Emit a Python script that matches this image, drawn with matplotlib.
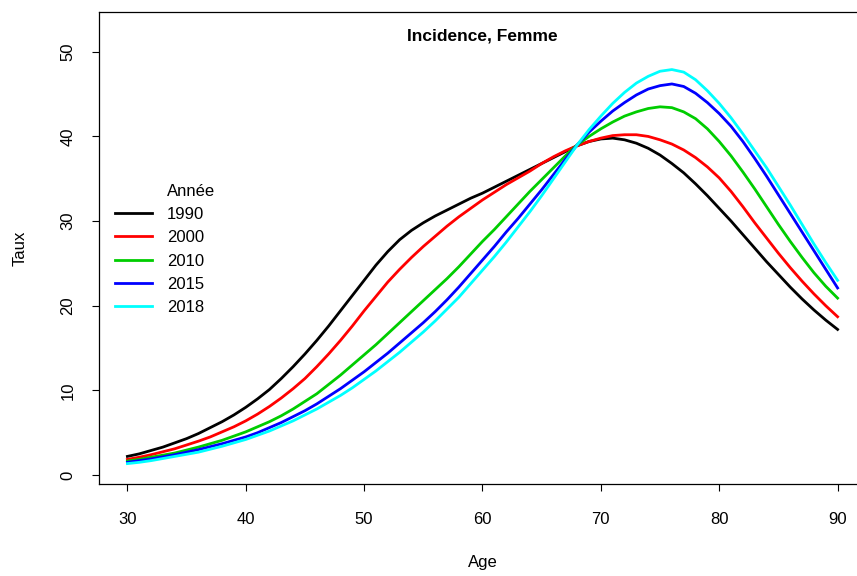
import matplotlib
matplotlib.use("Agg")
import matplotlib.pyplot as plt
from matplotlib.lines import Line2D

plt.rcParams['font.family'] = ['Liberation Sans', 'DejaVu Sans']

ages = list(range(30, 91))

taux_1990 = [2.2, 2.5, 2.9, 3.3, 3.8, 4.3, 4.9, 5.6, 6.3, 7.1,
             8.0, 9.0, 10.1, 11.4, 12.8, 14.3, 15.9, 17.6, 19.4, 21.2,
             23.0, 24.8, 26.4, 27.8, 28.9, 29.8, 30.6, 31.3, 32.0, 32.7,
             33.3, 34.0, 34.7, 35.4, 36.1, 36.8, 37.5, 38.2, 38.9, 39.4,
             39.7, 39.8, 39.6, 39.2, 38.6, 37.8, 36.8, 35.7, 34.4, 33.0,
             31.5, 30.0, 28.4, 26.8, 25.2, 23.7, 22.2, 20.8, 19.5, 18.3,
             17.2]
taux_2000 = [1.85, 2.1, 2.4, 2.75, 3.1, 3.55, 4.0, 4.5, 5.1, 5.7,
             6.4, 7.2, 8.1, 9.1, 10.2, 11.4, 12.8, 14.3, 15.9, 17.6,
             19.4, 21.1, 22.8, 24.3, 25.7, 27.0, 28.2, 29.4, 30.5, 31.5,
             32.5, 33.4, 34.3, 35.1, 35.9, 36.8, 37.6, 38.3, 38.9, 39.4,
             39.8, 40.1, 40.2, 40.2, 40.0, 39.6, 39.1, 38.4, 37.5, 36.4,
             35.1, 33.5, 31.7, 29.8, 28.0, 26.2, 24.5, 22.9, 21.4, 20.0,
             18.7]
taux_2010 = [1.65, 1.85, 2.1, 2.35, 2.6, 2.95, 3.3, 3.7, 4.1, 4.6,
             5.1, 5.7, 6.3, 7.0, 7.8, 8.7, 9.6, 10.7, 11.8, 13.0,
             14.2, 15.4, 16.7, 18.0, 19.3, 20.6, 21.9, 23.2, 24.6, 26.1,
             27.6, 29.0, 30.5, 32.0, 33.5, 34.9, 36.3, 37.7, 39.0, 40.0,
             40.9, 41.7, 42.4, 42.9, 43.3, 43.5, 43.4, 42.9, 42.1, 40.9,
             39.4, 37.7, 35.8, 33.8, 31.7, 29.6, 27.6, 25.7, 23.9, 22.3,
             20.9]
taux_2015 = [1.5, 1.7, 1.9, 2.15, 2.4, 2.7, 3.0, 3.35, 3.7, 4.1,
             4.5, 5.0, 5.6, 6.2, 6.9, 7.6, 8.4, 9.3, 10.2, 11.2,
             12.2, 13.3, 14.4, 15.6, 16.8, 18.0, 19.3, 20.7, 22.2, 23.8,
             25.4, 27.0, 28.7, 30.3, 32.0, 33.7, 35.5, 37.3, 39.0, 40.5,
             41.8, 43.0, 44.0, 44.9, 45.6, 46.0, 46.2, 45.9, 45.1, 44.0,
             42.7, 41.2, 39.4, 37.4, 35.3, 33.1, 30.9, 28.7, 26.5, 24.3,
             22.1]
taux_2018 = [1.35, 1.5, 1.7, 1.95, 2.2, 2.45, 2.7, 3.05, 3.4, 3.8,
             4.2, 4.7, 5.2, 5.8, 6.4, 7.1, 7.8, 8.6, 9.4, 10.3,
             11.3, 12.3, 13.4, 14.5, 15.7, 16.9, 18.2, 19.6, 21.0, 22.6,
             24.2, 25.8, 27.5, 29.3, 31.1, 33.0, 35.0, 37.0, 39.0, 40.8,
             42.4, 43.9, 45.2, 46.3, 47.1, 47.7, 47.9, 47.6, 46.7, 45.4,
             43.9, 42.2, 40.3, 38.3, 36.3, 34.1, 31.9, 29.6, 27.3, 25.1,
             23.0]

annees = ['1990', '2000', '2010', '2015', '2018']
couleurs = ['#000000', '#FF0000', '#00CD00', '#0000FF', '#00FFFF']
series = [taux_1990, taux_2000, taux_2010, taux_2015, taux_2018]

xticks = [30, 40, 50, 60, 70, 80, 90]
yticks = [0, 10, 20, 30, 40, 50]

W, H = 857, 576
fig = plt.figure(figsize=(W / 100, H / 100), dpi=100)
L, R, T, B = 99, 866, 12, 484
ax = fig.add_axes([L / W, (H - B) / H, (R - L) / W, (B - T) / H])

for vals, c, lab in zip(series, couleurs, annees):
    ax.plot(ages, vals, color=c, lw=2.0, label=lab, solid_joinstyle='round')

ax.set_xlim(27.6, 92.4)
ax.set_ylim(-1.06, 54.7)
ax.set_xticks(xticks)
ax.set_yticks(yticks)
ax.set_xticklabels([str(t) for t in xticks])
ax.set_yticklabels([str(t) for t in yticks], rotation=90, va='center')
ax.tick_params(axis='both', direction='out', length=5, width=0.8,
               labelsize=12, colors='black')
ax.tick_params(axis='x', pad=15.5)
ax.tick_params(axis='y', pad=12)
for s in ['left', 'bottom', 'top']:
    ax.spines[s].set_linewidth(0.9)
ax.spines['right'].set_visible(False)

ax.set_xlabel('Age', fontsize=12)
ax.set_ylabel('Taux', fontsize=12)
ax.xaxis.set_label_coords(0.5, (B - 563) / (B - T))
ax.xaxis.label.set_va('center')
ax.yaxis.set_label_coords((20 - L) / (R - L), 0.5)
ax.yaxis.label.set_va('center')
ax.yaxis.label.set_ha('center')

ax.text(0.5, (B - 36) / (B - T), 'Incidence, Femme', transform=ax.transAxes,
        ha='center', va='center', fontsize=12.5, fontweight='bold')

handles = [Line2D([], [], color='none')] + \
    [Line2D([], [], color=c, lw=2.0) for c in couleurs]
labels = ['Année'] + annees
leg = ax.legend(handles, labels, loc='upper left',
                bbox_to_anchor=(115 / W, 1 - 184 / H),
                bbox_transform=fig.transFigure, frameon=False, fontsize=12,
                handlelength=2.2, handletextpad=0.9, labelspacing=0.49,
                borderpad=0, borderaxespad=0)

fig.savefig('out.png', dpi=100)
